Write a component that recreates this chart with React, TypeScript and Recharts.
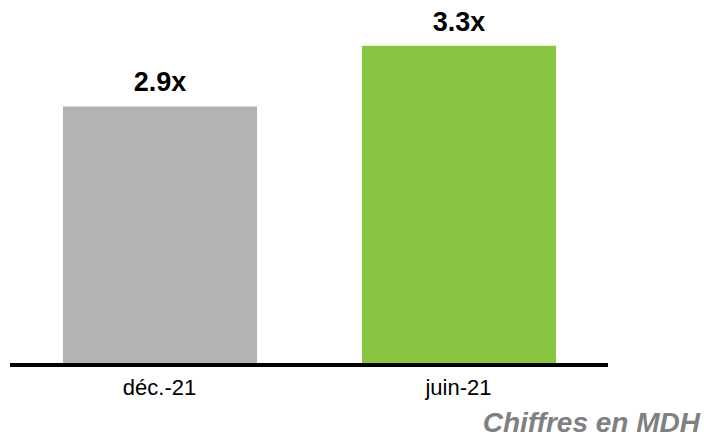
import React from 'react';
import { BarChart, Bar, XAxis, YAxis, Cell, LabelList } from 'recharts';

const categories = ['déc.-21', 'juin-21'];
const values = [2.9, 3.3];
const barColors = ['#b3b3b3', '#88c541'];

const data = categories.map((name, i) => ({ name, value: values[i] }));

const font = '"Liberation Sans", Arial, sans-serif';

export default function App() {
  return (
    <div style={{ position: 'relative', width: 704, height: 438, fontFamily: font }}>
      <style>{`body { margin: 0; }`}</style>
      <BarChart
        width={704}
        height={438}
        data={data}
        margin={{ top: 0, right: 96, left: 10, bottom: 0 }}
      >
        <YAxis hide domain={[1.2, 3.6]} allowDataOverflow />
        <Bar dataKey="value" barSize={194} isAnimationActive={false}>
          {data.map((d, i) => (
            <Cell key={d.name} fill={barColors[i]} />
          ))}
          <LabelList
            dataKey="value"
            position="top"
            offset={15}
            formatter={(v: number) => `${v.toFixed(1)}x`}
            style={{ fontSize: 27, fontWeight: 'bold', fill: '#000', fontFamily: font }}
          />
        </Bar>
        <XAxis
          dataKey="name"
          height={73}
          tickLine={false}
          tickSize={0}
          tickMargin={14}
          axisLine={{ stroke: '#000', strokeWidth: 4 }}
          tick={{ fontSize: 22, fill: '#000', fontFamily: font }}
        />
      </BarChart>
      <div
        style={{
          position: 'absolute',
          right: 4,
          top: 408,
          fontSize: 28,
          fontWeight: 'bold',
          fontStyle: 'italic',
          color: '#808080',
          whiteSpace: 'nowrap',
          lineHeight: '30px',
        }}
      >
        Chiffres en MDH
      </div>
    </div>
  );
}
